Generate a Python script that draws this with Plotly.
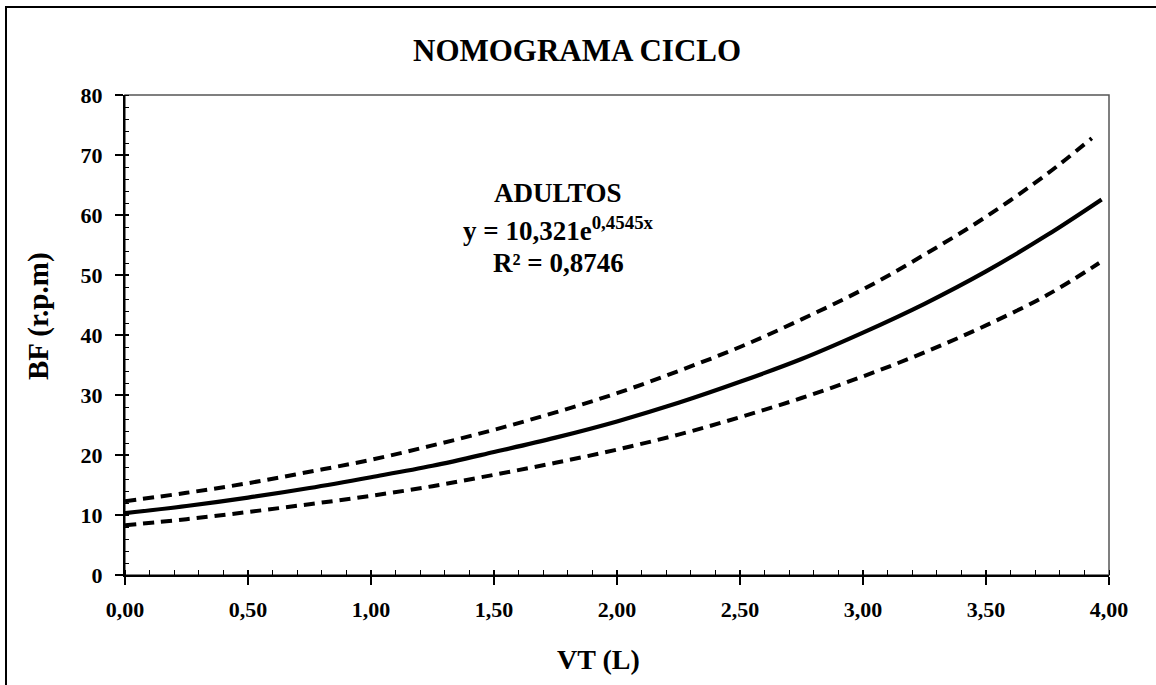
import plotly.graph_objects as go

# Data
vt_central = [0.00, 0.25, 0.50, 0.75, 1.00, 1.25, 1.50, 1.75, 2.00, 2.25, 2.50, 2.75, 3.00, 3.25, 3.50, 3.75, 3.97]
bf_central = [10.3, 11.5, 12.9, 14.5, 16.3, 18.2, 20.5, 22.9, 25.6, 28.7, 32.2, 36.0, 40.4, 45.2, 50.6, 56.7, 62.6]

vt_upper = [0.00, 0.25, 0.50, 0.75, 1.00, 1.25, 1.50, 1.75, 2.00, 2.25, 2.50, 2.75, 3.00, 3.25, 3.50, 3.75, 3.93]
bf_upper = [12.3, 13.7, 15.3, 17.2, 19.2, 21.6, 24.2, 27.1, 30.3, 34.0, 38.0, 42.6, 47.6, 53.4, 59.7, 66.9, 72.8]

vt_lower = [0.00, 0.25, 0.50, 0.75, 1.00, 1.25, 1.50, 1.75, 2.00, 2.25, 2.50, 2.75, 3.00, 3.25, 3.50, 3.75, 3.96]
bf_lower = [8.3, 9.3, 10.5, 11.8, 13.2, 14.8, 16.7, 18.7, 20.9, 23.4, 26.3, 29.5, 33.1, 37.1, 41.6, 46.7, 52.0]

x_tickvals = [0.0, 0.5, 1.0, 1.5, 2.0, 2.5, 3.0, 3.5, 4.0]
x_ticktext = ["0,00", "0,50", "1,00", "1,50", "2,00", "2,50", "3,00", "3,50", "4,00"]
y_tickvals = [0, 10, 20, 30, 40, 50, 60, 70, 80]
y_ticktext = ["0", "10", "20", "30", "40", "50", "60", "70", "80"]

title_text = "NOMOGRAMA CICLO"
x_title = "VT (L)"
y_title = "BF (r.p.m)"
ann_lines = ["ADULTOS", "y = 10,321e<sup>0,4545x</sup>", "R² = 0,8746"]

W, H = 1156, 685
ML, MR, MT, MB = 125, 47, 95, 110
PW, PH = W - ML - MR, H - MT - MB


def px(xp):
    return (xp - ML) / PW


def py(yp):
    return (H - MB - yp) / PH


FONT = "Liberation Serif"

fig = go.Figure()
fig.add_trace(go.Scatter(x=vt_upper, y=bf_upper, mode="lines",
                         line=dict(color="black", width=4, dash="11px,7px", shape="spline"),
                         showlegend=False, hoverinfo="skip"))
fig.add_trace(go.Scatter(x=vt_lower, y=bf_lower, mode="lines",
                         line=dict(color="black", width=4, dash="11px,7px", shape="spline"),
                         showlegend=False, hoverinfo="skip"))
fig.add_trace(go.Scatter(x=vt_central, y=bf_central, mode="lines",
                         line=dict(color="black", width=4.2, shape="spline"),
                         showlegend=False, hoverinfo="skip"))

tickfont = dict(family=FONT, size=22, color="black", weight="bold")

fig.update_layout(
    width=W, height=H,
    margin=dict(l=ML, r=MR, t=MT, b=MB, autoexpand=False),
    paper_bgcolor="white", plot_bgcolor="white",
    font=dict(family=FONT, color="black"),
    xaxis=dict(range=[0, 4], tickvals=x_tickvals, ticktext=x_ticktext,
               ticks="outside", ticklen=8, tickwidth=1.5, tickcolor="black",
               minor=dict(dtick=0.1, ticks="inside", ticklen=5, tickwidth=1.2, tickcolor="black"),
               showgrid=False, zeroline=False, showline=True, linecolor="black", linewidth=2,
               tickfont=tickfont, ticklabelstandoff=6, fixedrange=True),
    yaxis=dict(range=[0, 80], tickvals=y_tickvals, ticktext=y_ticktext,
               ticks="outside", ticklen=8, tickwidth=1.5, tickcolor="black",
               minor=dict(dtick=2, ticks="inside", ticklen=4, tickwidth=1.2, tickcolor="black"),
               showgrid=False, zeroline=False, showline=True, linecolor="black", linewidth=2,
               tickfont=tickfont, ticklabelstandoff=8, fixedrange=True),
    # overlay axes: inner part of the crossing major ticks
    xaxis2=dict(range=[0, 4], overlaying="x", side="bottom", tickvals=x_tickvals,
                ticks="inside", ticklen=5, tickwidth=1.5, tickcolor="black",
                showticklabels=False, showgrid=False, zeroline=False, showline=False,
                anchor="y", fixedrange=True),
    yaxis2=dict(range=[0, 80], overlaying="y", side="left", tickvals=y_tickvals,
                ticks="inside", ticklen=4, tickwidth=1.5, tickcolor="black",
                showticklabels=False, showgrid=False, zeroline=False, showline=False,
                anchor="x", fixedrange=True),
)

# invisible trace so the overlay axes render
fig.add_trace(go.Scatter(x=[None], y=[None], xaxis="x2", yaxis="y2",
                         showlegend=False, hoverinfo="skip"))

shapes = [
    # plot-area frame (top and right grey)
    dict(type="rect", xref="paper", yref="paper", x0=0, x1=1, y0=0, y1=1,
         line=dict(color="#555555", width=1.5), layer="below"),
    # outer chart border (cropped at right and bottom)
    dict(type="rect", xref="paper", yref="paper", x0=px(6), x1=px(W + 10),
         y0=py(H + 10), y1=py(7), line=dict(color="black", width=2), layer="above"),
]
fig.update_layout(shapes=shapes)

annotations = [
    dict(text=f"<b>{title_text}</b>", x=px(577), y=py(50), xref="paper", yref="paper",
         showarrow=False, font=dict(family=FONT, size=31, color="black"),
         xanchor="center", yanchor="middle"),
    dict(text=f"<b>{x_title}</b>", x=px(598), y=py(659), xref="paper", yref="paper",
         showarrow=False, font=dict(family=FONT, size=28, color="black"),
         xanchor="center", yanchor="middle"),
    dict(text=f"<b>{y_title}</b>", x=px(38), y=py(316), xref="paper", yref="paper",
         showarrow=False, textangle=-90, font=dict(family=FONT, size=29, color="black"),
         xanchor="center", yanchor="middle"),
]
for txt, ycen in zip(ann_lines, [193, 229, 263]):
    annotations.append(dict(text=f"<b>{txt}</b>", x=px(558), y=py(ycen), xref="paper", yref="paper",
                            showarrow=False, font=dict(family=FONT, size=27, color="black"),
                            xanchor="center", yanchor="middle"))
fig.update_layout(annotations=annotations)

fig.write_html("out.html", config={"displayModeBar": False})
